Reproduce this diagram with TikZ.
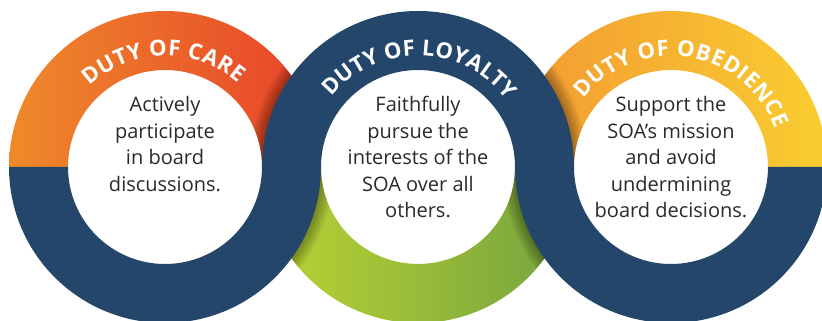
\documentclass[tikz,border=0pt]{standalone}
\usepackage{fontspec}
\setmainfont{Open Sans}
\usetikzlibrary{calc,decorations.text}

\definecolor{navy}{HTML}{24466A}
\definecolor{careL}{HTML}{EE8A2A}
\definecolor{careR}{HTML}{E8412A}
\definecolor{obeyL}{HTML}{F39A32}
\definecolor{obeyR}{HTML}{F9CD30}
\definecolor{loyalL}{HTML}{BBD434}
\definecolor{loyalR}{HTML}{74A23E}
\definecolor{bodygray}{HTML}{2A2A2A}

% ring geometry
\def\Rout{156pt}
\def\Rin{97pt}
\def\Rtxt{111pt}

\newcommand{\tophalf}[1]{($(#1)+(-\Rout,0)$) arc[start angle=180,end angle=0,radius=\Rout]
  -- ($(#1)+(\Rin,0)$) arc[start angle=0,end angle=180,radius=\Rin] -- cycle}
\newcommand{\bothalf}[1]{($(#1)+(-\Rout,0)$) arc[start angle=180,end angle=360,radius=\Rout]
  -- ($(#1)+(\Rin,0)$) arc[start angle=360,end angle=180,radius=\Rin] -- cycle}
\newcommand{\labelstyle}{\bfseries\fontsize{22}{22}\selectfont}

\tikzset{
  bodytext/.style={anchor=base, inner sep=0pt, text=bodygray,
    font=\fontsize{20}{26.5}\selectfont},
  ringlabel/.style={decorate, decoration={text along path, text={#1},
    text align=fit to path, text color=white}},
  shadowline/.style={draw=black, opacity=0.035},
}

\begin{document}
\begin{tikzpicture}[x=1pt,y=1pt]
  \clip (0,0) rectangle (822,321);
  \fill[white] (0,0) rectangle (822,321);

  \coordinate (L) at (165,154);
  \coordinate (M) at (418,154);
  \coordinate (R) at (671,154);

  % lower layer: the parts that pass underneath
  \shade[left color=careL, right color=careR] \tophalf{L};
  \shade[left color=obeyL, right color=obeyR] \tophalf{R};
  \shade[left color=loyalL, right color=loyalR] \bothalf{M};

  % soft shadows where the upper bands cross
  \begin{scope}
    \clip \tophalf{L};
    \foreach \k in {1,...,10} \draw[shadowline, line width=2.6*\k] (M) circle (\Rout);
  \end{scope}
  \begin{scope}
    \clip \tophalf{R};
    \foreach \k in {1,...,10} \draw[shadowline, line width=2.6*\k] (M) circle (\Rout);
  \end{scope}
  \begin{scope}
    \clip \bothalf{M};
    \foreach \k in {1,...,10} {
      \draw[shadowline, line width=2.6*\k] (L) circle (\Rout);
      \draw[shadowline, line width=2.6*\k] (R) circle (\Rout);
    }
  \end{scope}

  % upper layer: the navy bands
  \fill[navy] \bothalf{L};
  \fill[navy] \bothalf{R};
  \fill[navy] \tophalf{M};

  % ring titles
  \path[ringlabel={|\labelstyle|DUTY OF CARE}]
    ([shift={(133:\Rtxt)}]L) arc[start angle=133, end angle=49, radius=\Rtxt];
  \path[ringlabel={|\labelstyle|DUTY OF LOYALTY}]
    ([shift={(141:\Rtxt)}]M) arc[start angle=141, end angle=37, radius=\Rtxt];
  \path[ringlabel={|\labelstyle|DUTY OF OBEDIENCE}]
    ([shift={(142:\Rtxt)}]R) arc[start angle=142, end angle=20, radius=\Rtxt];

  % ring texts
  \node[bodytext] (care) at (165,209)
    {\begin{tabular}[t]{@{}c@{}}Actively\\participate\\in board\\discussions.\end{tabular}};
  \node[bodytext] (loyalty) at (418,209)
    {\begin{tabular}[t]{@{}c@{}}Faithfully\\pursue the\\interests of the\\SOA over all\\others.\end{tabular}};
  \node[bodytext] (obedience) at (671,209)
    {\begin{tabular}[t]{@{}c@{}}Support the\\SOA’s mission\\and avoid\\undermining\\board decisions.\end{tabular}};
\end{tikzpicture}
\end{document}
